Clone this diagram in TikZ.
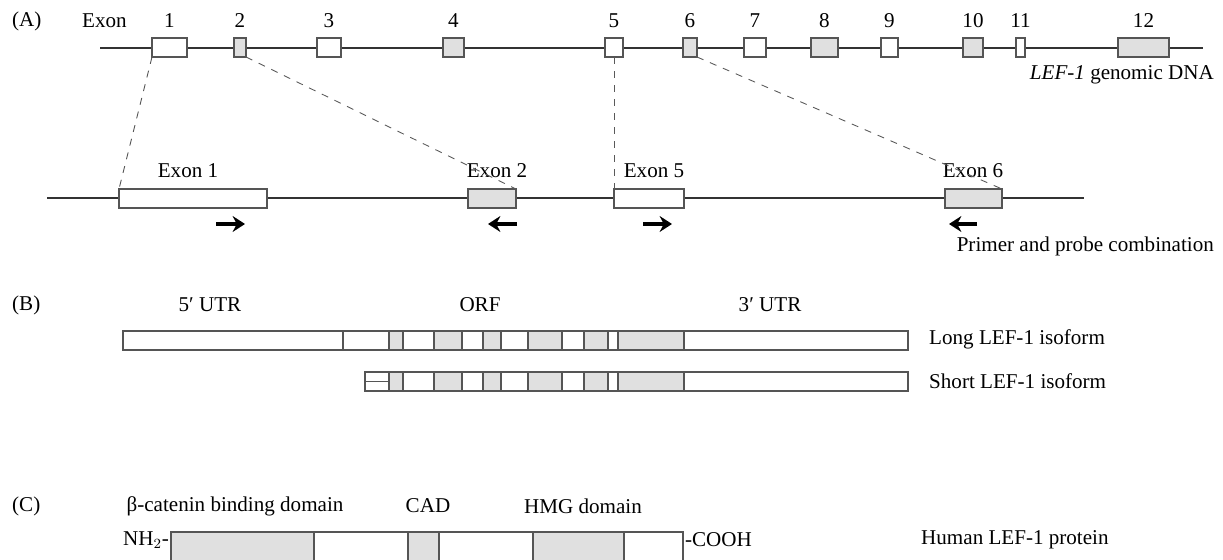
\documentclass[tikz,border=0pt]{standalone}
\usepackage{fontspec}
\setmainfont{Liberation Serif}
\usetikzlibrary{arrows.meta, positioning}
\definecolor{exgray}{RGB}{224, 224, 224}
\definecolor{dnaline}{RGB}{51, 51, 51}
\definecolor{boxline}{RGB}{85, 85, 85}

\begin{document}
\begin{tikzpicture}[
  x=0.02cm, y=-0.02cm,
  font=\fontsize{12}{14}\selectfont,
  dna/.style={line width=1.4pt, dnaline},
  exbox/.style={draw=boxline, line width=0.7pt, minimum height=0.38cm, inner sep=0pt, outer sep=0pt},
  seg/.style={draw=boxline, line width=0.7pt},
  zoomln/.style={gray!70!black, line width=0.5pt, dash pattern=on 4pt off 4pt},
  primer/.style={-{Stealth[length=7pt, width=9pt]}, line width=1.8pt},
]
  \useasboundingbox (0,0) rectangle (1223,560);

  % (A) genomic DNA
  \node[anchor=west] (pa) at (6,21) {(A)};
  \node[anchor=west] (exw) at (76,21) {Exon};
  \coordinate (gs) at (100,48);
  \coordinate (ge) at (1203,48);
  \draw[dna] (gs) -- (ge);
  \foreach \n/\a/\b/\f in {1/152/187/white, 2/234/246/exgray, 3/317/341/white,
      4/443/464/exgray, 5/605/623/white, 6/683/697/exgray, 7/744/766/white,
      8/811/838/exgray, 9/881/898/white, 10/963/983/exgray, 11/1016/1025/white,
      12/1118/1169/exgray} {
    \node[exbox, fill=\f, minimum width={(\b-\a)*0.02cm}] (g\n) at ({(\a+\b)/2},47.5) {};
    \node (n\n) at ({(\a+\b)/2},21) {\n};
  }
  \node[anchor=east] (gdna) at (1220,75) {\textit{LEF-1} genomic DNA};

  % zoomed exons
  \coordinate (ts) at (47,198);
  \coordinate (te) at (1084,198);
  \draw[dna] (ts) -- (te);
  \node[exbox, fill=white, minimum width=148*0.02cm] (x1) at (193,198.5) {};
  \node[exbox, fill=exgray, minimum width=48*0.02cm] (x2) at (492,198.5) {};
  \node[exbox, fill=white, minimum width=70*0.02cm] (x5) at (649,198.5) {};
  \node[exbox, fill=exgray, minimum width=57*0.02cm] (x6) at (973.5,198.5) {};
  \node (l1) at (188,171) {Exon 1};
  \node (l2) at (497,171) {Exon 2};
  \node (l5) at (654,171) {Exon 5};
  \node (l6) at (973,171) {Exon 6};
  \draw[zoomln] (g1.south west) -- (x1.north west);
  \draw[zoomln] (g2.south east) -- (x2.north east);
  \draw[zoomln] (g5.south) -- (x5.north west);
  \draw[zoomln] (g6.south east) -- (x6.north east);

  % primers
  \draw[primer] (216,224) -- (245,224);
  \draw[primer] (517,224) -- (488,224);
  \draw[primer] (643,224) -- (672,224);
  \draw[primer] (977,224) -- (949,224);
  \node[anchor=east] (pp) at (1220,246) {Primer and probe combination};

  % (B) transcripts
  \node[anchor=west] (pb) at (6,305) {(B)};
  \node (utr5) at (210,305) {5′ UTR};
  \node (orf) at (480,305) {ORF};
  \node (utr3) at (770,305) {3′ UTR};
  \draw[seg, fill=white] (123,331) rectangle (343,350);
  \draw[seg, fill=white] (365,372) rectangle (389,391);
  \draw[seg] (365,381.5) -- (389,381.5);
  \foreach \a/\b/\f in {343/389/white, 389/403/exgray, 403/434/white, 434/462/exgray,
      462/483/white, 483/501/exgray, 501/528/white, 528/562/exgray, 562/584/white,
      584/608/exgray, 608/618/white, 618/684/exgray, 684/908/white} {
    \draw[seg, fill=\f] (\a,331) rectangle (\b,350);
    \ifdim\a pt>380pt \draw[seg, fill=\f] (\a,372) rectangle (\b,391);\fi
  }
  \node[anchor=west] (liso) at (923,339) {Long LEF-1 isoform};
  \node[anchor=west] (siso) at (923,381) {Short LEF-1 isoform};

  % (C) protein
  \node[anchor=west] (pc) at (6,506) {(C)};
  \node (bcat) at (235,506) {β-catenin binding domain};
  \node (cad) at (428,506) {CAD};
  \node (hmg) at (583,506) {HMG domain};
  \foreach \a/\b/\f in {171/314/exgray, 314/408/white, 408/439/exgray,
      439/533/white, 533/624/exgray, 624/683/white} {
    \draw[seg, fill=\f] (\a,532) rectangle (\b,566);
  }
  \node[anchor=east, inner sep=1pt] (nh) at (171,540) {NH$_2$-};
  \node[anchor=west, inner sep=1pt] (cooh) at (683,540) {-COOH};
  \node[anchor=west] (hprot) at (915,540) {Human LEF-1 protein};
\end{tikzpicture}
\end{document}
